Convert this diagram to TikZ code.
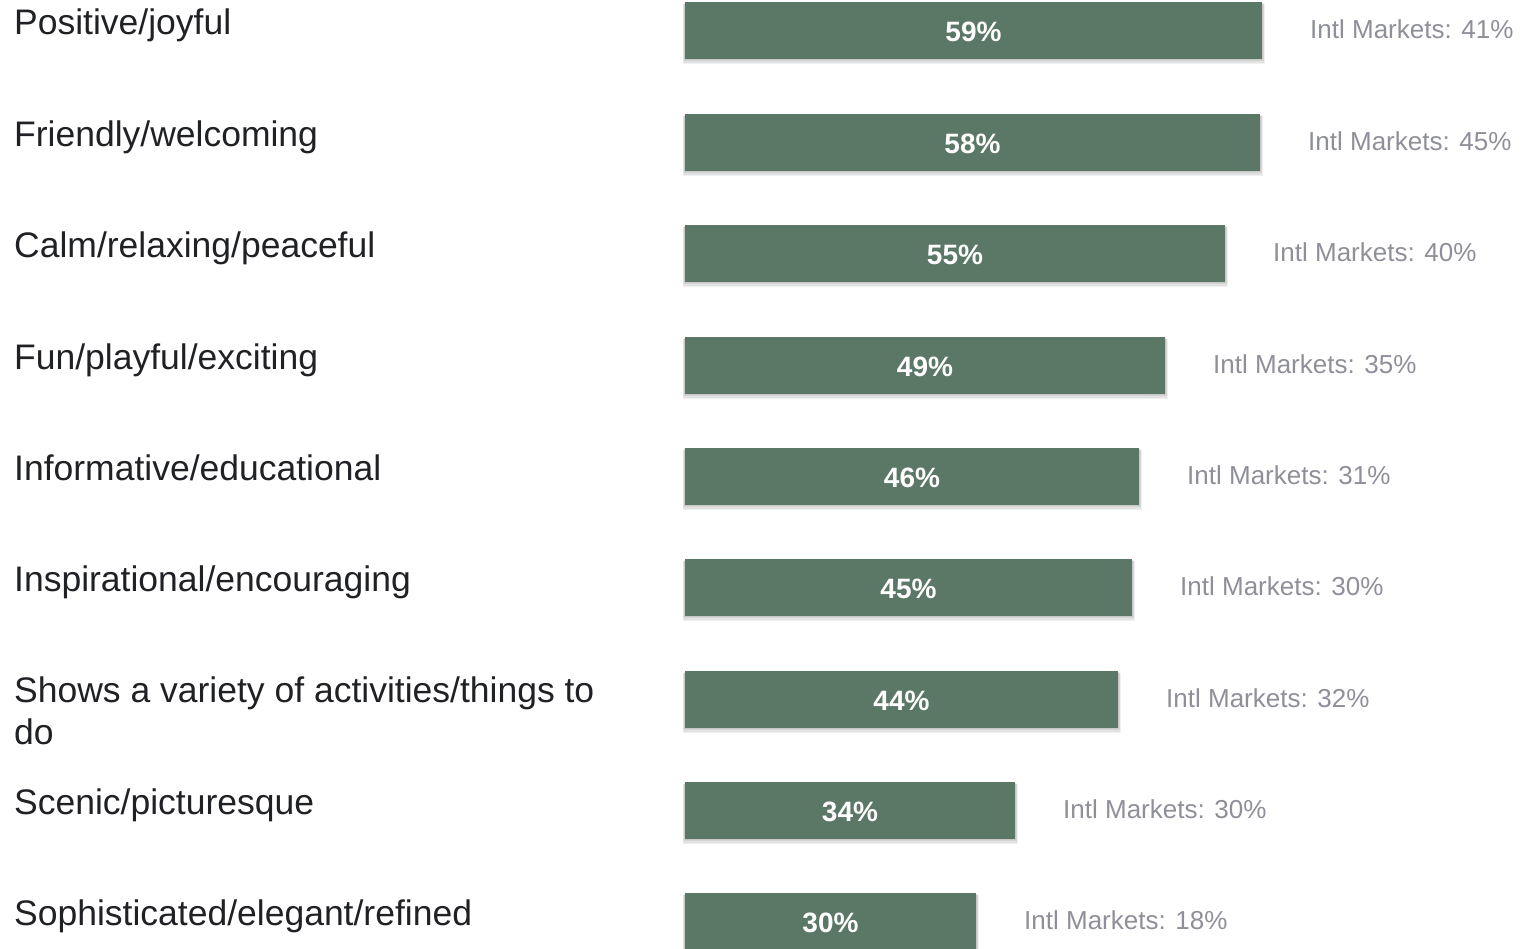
\documentclass[tikz,border=0pt]{standalone}
\usepackage{fontspec}
\setmainfont{Liberation Sans}
\definecolor{barc}{HTML}{5B7766}
\definecolor{intlc}{HTML}{8F8F9A}
\definecolor{labc}{HTML}{202124}
\tikzset{
  barbox/.style={fill=barc, draw=none},
  shadowbox/.style={fill=black, opacity=0.06, draw=none},
  catlab/.style={anchor=base west, inner sep=0pt, text=labc, font=\fontsize{35.5}{42}\selectfont},
  vallab/.style={anchor=base, inner sep=0pt, text=white, font=\fontsize{28}{32}\selectfont\bfseries},
  intllab/.style={anchor=base west, inner sep=0pt, text=intlc, font=\fontsize{26}{30}\selectfont}
}
\begin{document}
\begin{tikzpicture}[x=1pt,y=-1pt]
\useasboundingbox (0,0) rectangle (1523,948);
\foreach \i/\top/\right/\val/\intl/\lab in {
  1/2/1262/59/41/{Positive/joyful},
  2/114/1260/58/45/{Friendly/welcoming},
  3/225/1225/55/40/{Calm/relaxing/peaceful},
  4/337/1165/49/35/{Fun/playful/exciting},
  5/448/1139/46/31/{Informative/educational},
  6/559/1132/45/30/{Inspirational/encouraging},
  7/671/1118/44/32/{},
  8/782/1015/34/30/{Scenic/picturesque},
  9/893/976/30/18/{Sophisticated/elegant/refined}}{
  \foreach \d in {1,2,3,4}{
    \path[shadowbox] (685-\d*0.6,\top+\d*0.5) rectangle (\right+\d*0.8,\top+57+\d*1.2);
  }
  \path[barbox] (685,\top) rectangle (\right,\top+57) coordinate (c\i);
  \node[vallab] (v\i) at ({(685+\right)/2},\top+39) {\val\%};
  \node[intllab] (m\i) at (\right+48,\top+36) {Intl Markets: \intl\%};
  \node[catlab] (l\i) at (14,\top+32) {\lab};
}
\node[catlab] (l7a) at (14,702) {Shows a variety of activities/things to};
\node[catlab] (l7b) at (14,744) {do};
\end{tikzpicture}
\end{document}
